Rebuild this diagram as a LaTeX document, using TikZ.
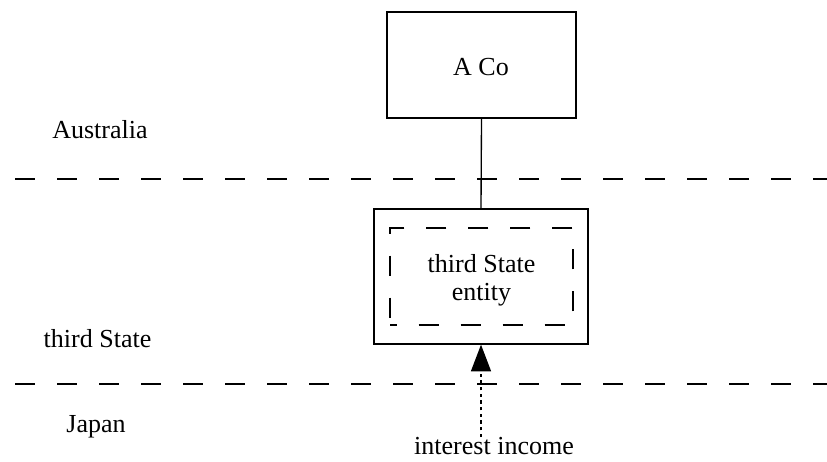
\documentclass[tikz,border=0pt]{standalone}
\usepackage{fontspec}
\setmainfont{Liberation Serif}
\usetikzlibrary{arrows.meta}
\begin{document}
\begin{tikzpicture}[x=0.75pt,y=-0.75pt,
  lbl/.style={font=\fontsize{19.5}{21}\selectfont, inner sep=0pt, anchor=base},
  entitybox/.style={draw, line width=1pt, minimum width=#1, inner sep=0pt},
  border/.style={line width=1.3pt, dash pattern=on 15pt off 16.5pt},
  innerdash/.style={draw, line width=1pt, dash pattern=on 15pt off 16.5pt, dash phase=10pt},
  flow/.style={line width=1pt, dash pattern=on 2.5pt off 2.5pt,
    -{Triangle[width=15pt,length=20pt]}}]
  \useasboundingbox (0,0) rectangle (827,461);

  % parent company
  \node[entitybox=141.75pt, minimum height=79.5pt] (aco) at (481.5,65) {};
  \node[lbl] (acot) at (481,75) {A Co};

  % interposed entity: solid outer box, dashed inner box
  \node[entitybox=160.5pt, minimum height=101.25pt] (outer) at (481,276.5) {};
  \node[innerdash, minimum width=137.25pt, minimum height=72.75pt, inner sep=0pt] (inner) at (481.5,276.5) {};
  \node[lbl] (ent1) at (481.5,272) {third State};
  \node[lbl] (ent2) at (481.5,300) {entity};

  % jurisdiction borders
  \coordinate (b1l) at (15,179);
  \coordinate (b1r) at (830,179);
  \coordinate (b2l) at (15,384);
  \coordinate (b2r) at (830,384);
  \draw[border] (b1l) -- (b1r);
  \draw[border] (b2l) -- (b2r);

  % jurisdiction names
  \node[lbl] (aus) at (100,138) {Australia};
  \node[lbl] (ts) at (97.5,347) {third State};
  \node[lbl] (jp) at (96,432) {Japan};

  % ownership and income flow
  \draw[line width=1pt] (aco.south) -- (outer.north);
  \node[lbl] (inc) at (494,454) {interest income};
  \coordinate (src) at (481,437);
  \draw[flow] (src) -- (outer.south);
\end{tikzpicture}
\end{document}
